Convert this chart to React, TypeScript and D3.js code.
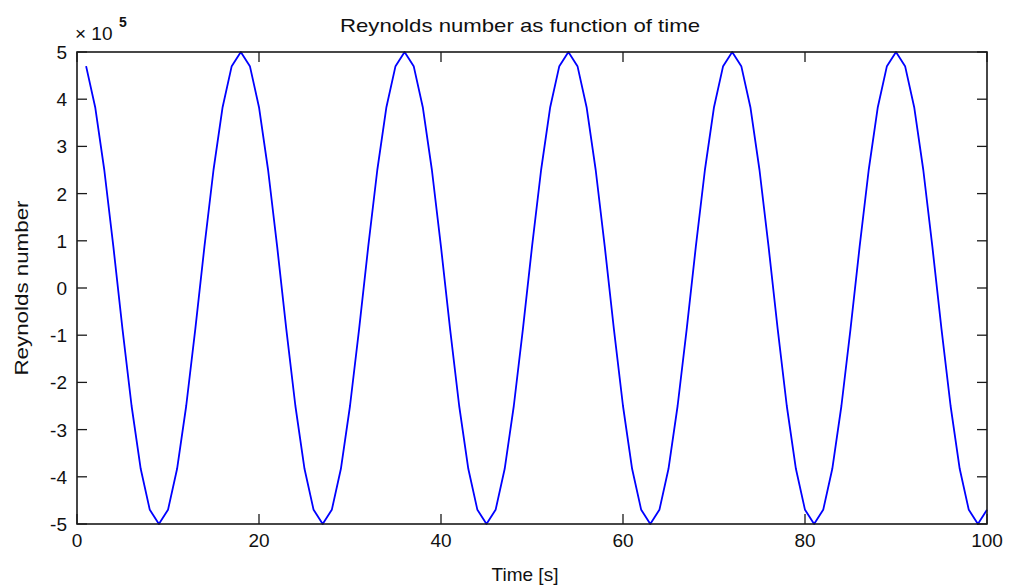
import React from "react";
import * as d3 from "d3";

// Sample times [s]
const time: number[] = [
  1, 2, 3, 4, 5, 6, 7, 8, 9, 10, 11, 12, 13, 14, 15, 16, 17, 18, 19, 20,
  21, 22, 23, 24, 25, 26, 27, 28, 29, 30, 31, 32, 33, 34, 35, 36, 37, 38, 39, 40,
  41, 42, 43, 44, 45, 46, 47, 48, 49, 50, 51, 52, 53, 54, 55, 56, 57, 58, 59, 60,
  61, 62, 63, 64, 65, 66, 67, 68, 69, 70, 71, 72, 73, 74, 75, 76, 77, 78, 79, 80,
  81, 82, 83, 84, 85, 86, 87, 88, 89, 90, 91, 92, 93, 94, 95, 96, 97, 98, 99, 100,
];

// Reynolds number at each sample time
const reynolds: number[] = [
  470000, 383000, 250000, 87000, -87000, -250000, -383000, -470000, -500000,
  -470000, -383000, -250000, -87000, 87000, 250000, 383000, 470000, 500000,
  470000, 383000, 250000, 87000, -87000, -250000, -383000, -470000, -500000,
  -470000, -383000, -250000, -87000, 87000, 250000, 383000, 470000, 500000,
  470000, 383000, 250000, 87000, -87000, -250000, -383000, -470000, -500000,
  -470000, -383000, -250000, -87000, 87000, 250000, 383000, 470000, 500000,
  470000, 383000, 250000, 87000, -87000, -250000, -383000, -470000, -500000,
  -470000, -383000, -250000, -87000, 87000, 250000, 383000, 470000, 500000,
  470000, 383000, 250000, 87000, -87000, -250000, -383000, -470000, -500000,
  -470000, -383000, -250000, -87000, 87000, 250000, 383000, 470000, 500000,
  470000, 383000, 250000, 87000, -87000, -250000, -383000, -470000, -500000,
  -470000,
];

const xTicks: number[] = [0, 20, 40, 60, 80, 100];
const yTicks: number[] = [-5, -4, -3, -2, -1, 0, 1, 2, 3, 4, 5];
const yExponent = 5;

const W = 1009;
const H = 586;
const plot = { left: 77, right: 987, top: 52, bottom: 524 };
const font = "'Liberation Sans', Arial, Helvetica, sans-serif";
const tickLen = 10;
const axisColor = "#1a1a1a";

export default function App() {
  const x = d3.scaleLinear().domain([0, 100]).range([plot.left, plot.right]);
  const y = d3
    .scaleLinear()
    .domain([-5 * 10 ** yExponent, 5 * 10 ** yExponent])
    .range([plot.bottom, plot.top]);
  const yScaled = (v: number) => y(v * 10 ** yExponent);

  const line = d3
    .line<number>()
    .x((_, i) => x(time[i]))
    .y((d) => y(d));

  return (
    <svg
      width={W}
      height={H}
      style={{ position: "absolute", left: 0, top: 0, background: "#fff" }}
      fontFamily={font}
    >
      <rect x={0} y={0} width={W} height={H} fill="#fff" />

      {/* data line */}
      <path d={line(reynolds) ?? ""} fill="none" stroke="#0000ff" strokeWidth={1.8} strokeLinejoin="round" />

      {/* x ticks, bottom and mirrored on top */}
      {xTicks.map((t) => (
        <g key={"xt" + t} stroke={axisColor} strokeWidth={1.3}>
          <line x1={x(t)} x2={x(t)} y1={plot.bottom} y2={plot.bottom - tickLen} />
          <line x1={x(t)} x2={x(t)} y1={plot.top} y2={plot.top + tickLen} />
        </g>
      ))}
      {/* y ticks, left and mirrored on right */}
      {yTicks.map((t) => (
        <g key={"yt" + t} stroke={axisColor} strokeWidth={1.3}>
          <line x1={plot.left} x2={plot.left + tickLen} y1={yScaled(t)} y2={yScaled(t)} />
          <line x1={plot.right} x2={plot.right - tickLen} y1={yScaled(t)} y2={yScaled(t)} />
        </g>
      ))}

      {/* frame */}
      <rect
        x={plot.left}
        y={plot.top}
        width={plot.right - plot.left}
        height={plot.bottom - plot.top}
        fill="none"
        stroke={axisColor}
        strokeWidth={1.6}
      />

      {/* tick labels */}
      {xTicks.map((t) => (
        <text key={"xl" + t} x={x(t)} y={plot.bottom + 23} textAnchor="middle" fontSize={19} fill="#111">
          {t}
        </text>
      ))}
      {yTicks.map((t) => (
        <text
          key={"yl" + t}
          x={plot.left - 10}
          y={yScaled(t) + 7}
          textAnchor="end"
          fontSize={19}
          fill="#111"
        >
          {t}
        </text>
      ))}

      {/* exponent */}
      <text x={75} y={40} fontSize={19} fill="#111">
        × 10
      </text>
      <text x={119} y={27} fontSize={14} fontWeight="bold" fill="#111">
        {yExponent}
      </text>

      {/* title and axis labels */}
      <text x={520} y={32} textAnchor="middle" fontSize={19} fill="#111" textLength={360} lengthAdjust="spacingAndGlyphs">
        Reynolds number as function of time
      </text>
      <text x={525} y={581} textAnchor="middle" fontSize={19} fill="#111">
        Time [s]
      </text>
      <text
        transform={`translate(28, ${(plot.top + plot.bottom) / 2}) rotate(-90)`}
        textAnchor="middle"
        fontSize={19}
        fill="#111"
        textLength={175}
        lengthAdjust="spacingAndGlyphs"
      >
        Reynolds number
      </text>
    </svg>
  );
}
